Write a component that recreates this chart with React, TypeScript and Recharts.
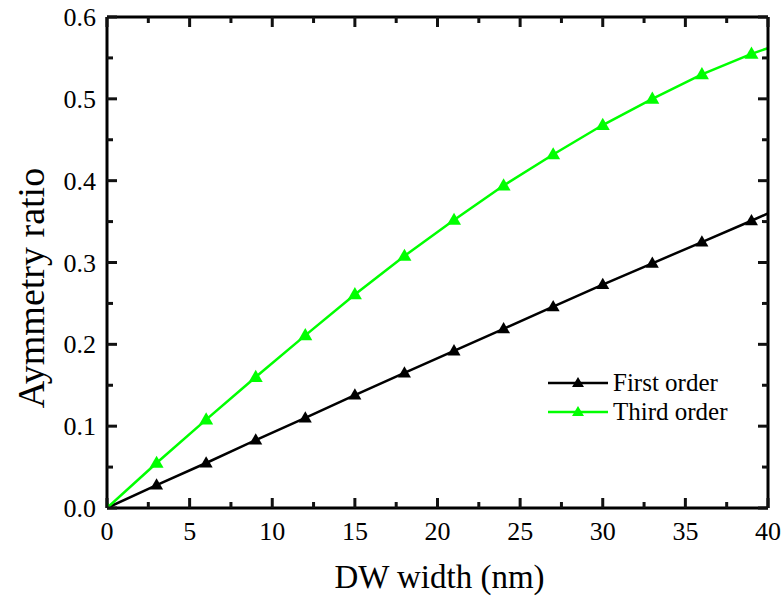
import { LineChart, Line, XAxis, YAxis } from "recharts";

const widths = [0, 3, 6, 9, 12, 15, 18, 21, 24, 27, 30, 33, 36, 39, 40];
const firstOrder = [0, 0.028, 0.055, 0.083, 0.110, 0.138, 0.165, 0.192, 0.219, 0.246, 0.273, 0.299, 0.325, 0.351, 0.36];
const thirdOrder = [0, 0.055, 0.108, 0.160, 0.211, 0.261, 0.308, 0.352, 0.394, 0.432, 0.468, 0.500, 0.530, 0.555, 0.562];

const xMajor = [0, 5, 10, 15, 20, 25, 30, 35, 40];
const xMinor = [2.5, 7.5, 12.5, 17.5, 22.5, 27.5, 32.5, 37.5];
const yMajor = [0, 0.1, 0.2, 0.3, 0.4, 0.5, 0.6];
const yMinor = [0.05, 0.15, 0.25, 0.35, 0.45, 0.55];

const xTicks = [...xMajor, ...xMinor].sort((a, b) => a - b);
const yTicks = [...yMajor, ...yMinor].sort((a, b) => a - b);

const GREEN = "#00ff00";
const FONT = "'Liberation Serif', 'Times New Roman', serif";
const MAJOR = 10;
const MINOR = 6;

const series = [
  { key: "first", name: "First order", color: "#000", size: 13 },
  { key: "third", name: "Third order", color: GREEN, size: 14 },
];

const data = widths.map((w, i) => ({ w, first: firstOrder[i], third: thirdOrder[i] }));

function triangle(color: string, size: number) {
  return (props: any) => {
    const { cx, cy, payload, index } = props;
    if (payload.w === 40 || cx == null) return <g key={`d-${index}`} />;
    const h = size * 0.87;
    const pts = `${cx},${cy - h * 0.6} ${cx - size / 2},${cy + h * 0.4} ${cx + size / 2},${cy + h * 0.4}`;
    return <polygon key={`d-${index}`} points={pts} fill={color} />;
  };
}

const axisLine = { stroke: "#000", strokeWidth: 3 };

const isMajor = (v: number, list: number[]) => list.some((m) => Math.abs(m - v) < 1e-9);

// inward tick marks drawn from the tick anchor; labels only on bottom/left majors
function tickMark(side: string, margin = 0, label = false) {
  return (props: any) => {
    const { x, y, payload } = props;
    const v = Number(payload.value);
    const major = side === "bottom" || side === "top" ? isMajor(v, xMajor) : isMajor(v, yMajor);
    const len = major ? MAJOR : MINOR;
    let d = "";
    let text = null;
    if (side === "bottom") {
      const ay = y - margin;
      d = `M${x},${ay}L${x},${ay - len}`;
      if (label && major)
        text = (
          <text x={x} y={y} dy={16} textAnchor="middle" fill="#000" fontSize={26} fontFamily={FONT}>
            {v}
          </text>
        );
    } else if (side === "top") {
      d = `M${x},${y}L${x},${y + len}`;
    } else if (side === "left") {
      const ax = x + margin;
      d = `M${ax},${y}L${ax + len},${y}`;
      if (label && major)
        text = (
          <text x={x} y={y} dy={9} textAnchor="end" fill="#000" fontSize={26} fontFamily={FONT}>
            {v.toFixed(1)}
          </text>
        );
    } else {
      d = `M${x},${y}L${x - len},${y}`;
    }
    return (
      <g key={`${side}-${v}`}>
        <path d={d} stroke="#111" strokeWidth={3} fill="none" />
        {text}
      </g>
    );
  };
}

export default function App() {
  return (
    <div style={{ position: "fixed", left: 0, top: 0, width: 783, height: 603, background: "#fff" }}>
      <LineChart width={783} height={603} data={data} margin={{ top: 16, right: 14, left: 0, bottom: 0 }}>
        <XAxis
          xAxisId="x"
          dataKey="w"
          type="number"
          domain={[0, 40]}
          ticks={xTicks}
          height={95}
          axisLine={axisLine}
          tickLine={false}
          tickSize={0}
          tickMargin={16}
          tick={tickMark("bottom", 16, true)}
          interval={0}
          allowDataOverflow
        />
        <XAxis
          xAxisId="xt"
          dataKey="w"
          orientation="top"
          type="number"
          domain={[0, 40]}
          ticks={xTicks}
          height={1}
          axisLine={axisLine}
          tickLine={false}
          tickSize={0}
          tickMargin={0}
          tick={tickMark("top")}
          interval={0}
          allowDataOverflow
        />
        <YAxis
          yAxisId="y"
          type="number"
          domain={[0, 0.6]}
          ticks={yTicks}
          width={107}
          axisLine={axisLine}
          tickLine={false}
          tickSize={0}
          tickMargin={11}
          tick={tickMark("left", 11, true)}
          interval={0}
          allowDataOverflow
        />
        <YAxis
          yAxisId="yr"
          orientation="right"
          type="number"
          domain={[0, 0.6]}
          ticks={yTicks}
          width={1}
          axisLine={axisLine}
          tickLine={false}
          tickSize={0}
          tickMargin={0}
          tick={tickMark("right")}
          interval={0}
          allowDataOverflow
        />
        {/* invisible series so the top/right frame axes share the same scales */}
        <Line
          xAxisId="xt"
          yAxisId="yr"
          dataKey="first"
          stroke="none"
          dot={false}
          activeDot={false}
          legendType="none"
          isAnimationActive={false}
        />
        {series.map((s) => (
          <Line
            key={s.key}
            xAxisId="x"
            yAxisId="y"
            type="linear"
            dataKey={s.key}
            name={s.name}
            stroke={s.color}
            strokeWidth={2.5}
            dot={triangle(s.color, s.size)}
            isAnimationActive={false}
          />
        ))}
      </LineChart>
      <div style={{ position: "absolute", left: 548, top: 368, fontFamily: FONT, fontSize: 25, color: "#000" }}>
        {series.map((s) => (
          <div key={s.key} style={{ display: "flex", alignItems: "center", height: 29 }}>
            <svg width={62} height={14}>
              <line x1={0} y1={7} x2={60} y2={7} stroke={s.color} strokeWidth={2.5} />
              <polygon points="30,1 24,11 36,11" fill={s.color} />
            </svg>
            <span style={{ marginLeft: 3, lineHeight: "29px" }}>{s.name}</span>
          </div>
        ))}
      </div>
      <div
        style={{
          position: "absolute",
          left: 0,
          width: 783,
          top: 557,
          paddingLeft: 96,
          textAlign: "center",
          boxSizing: "border-box",
          fontFamily: FONT,
          fontSize: 33,
          lineHeight: "40px",
        }}
      >
        DW width (nm)
      </div>
      <div
        style={{
          position: "absolute",
          left: 31,
          top: 288,
          transform: "translate(-50%, -50%) rotate(-90deg)",
          whiteSpace: "nowrap",
          fontFamily: FONT,
          fontSize: 38,
          lineHeight: "44px",
        }}
      >
        Aymmetry ratio
      </div>
    </div>
  );
}
